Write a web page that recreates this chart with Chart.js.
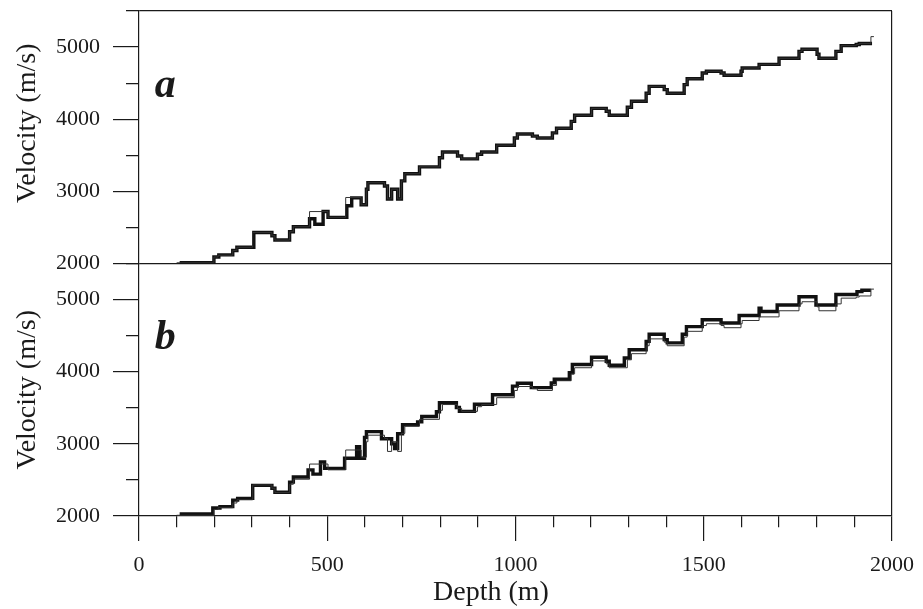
<!DOCTYPE html>
<html>
<head>
<meta charset="utf-8">
<script src="https://cdn.jsdelivr.net/npm/chart.js@4.4.1/dist/chart.umd.min.js"></script>
<style>
  body { margin: 0; background: #fff; }
  #wrap { width: 923px; height: 609px; }
</style>
</head>
<body>
<div id="wrap"><canvas id="myChart"></canvas></div>
<script>
// Step profiles: depth where each layer starts (m) and its velocity (m/s)
// thin line = true model (same in both panels)
const depthTrue = [100, 199, 210, 249, 260, 302, 353, 361, 400, 410, 453, 502, 549, 590, 604, 608, 652, 660, 671, 687,
  697, 706, 745, 798, 806, 846, 857, 899, 910, 950, 997, 1005, 1045, 1058, 1098, 1109, 1148, 1157, 1202, 1241,
  1249, 1297, 1308, 1347, 1355, 1395, 1403, 1448, 1456, 1496, 1507, 1546, 1554, 1599, 1602, 1647, 1700, 1753, 1761, 1801,
  1806, 1851, 1865, 1905, 1913, 1944, 1952];
const velTrue = [2010, 2090, 2115, 2180, 2225, 2430, 2385, 2325, 2440, 2510, 2720, 2640, 2915, 2815, 3030, 3120, 3075, 2895, 3030, 2895,
  3145, 3245, 3340, 3465, 3545, 3490, 3450, 3515, 3545, 3640, 3740, 3795, 3765, 3740, 3810, 3875, 3970, 4055, 4150, 4110,
  4055, 4165, 4250, 4360, 4455, 4410, 4360, 4480, 4560, 4640, 4665, 4640, 4610, 4665, 4710, 4760, 4845, 4940, 4970, 4900,
  4845, 4940, 5020, 5035, 5050, 5145, 5145];

// thick line, panel a
const depthA = [108, 199, 212, 249, 260, 305, 353, 361, 400, 410, 453, 467, 489, 502, 552, 565, 590, 604, 608, 652,
  660, 671, 687, 697, 706, 745, 798, 806, 846, 857, 899, 910, 950, 997, 1005, 1045, 1058, 1098, 1109, 1148,
  1157, 1202, 1241, 1249, 1297, 1308, 1347, 1355, 1395, 1403, 1448, 1456, 1496, 1507, 1546, 1554, 1599, 1602, 1647, 1700,
  1753, 1761, 1801, 1806, 1851, 1865, 1905, 1913, 1947];
const velA = [2010, 2090, 2120, 2180, 2225, 2430, 2385, 2325, 2440, 2510, 2620, 2545, 2720, 2640, 2800, 2910, 2815, 3030, 3120, 3075,
  2895, 3030, 2895, 3145, 3245, 3340, 3465, 3545, 3490, 3450, 3515, 3545, 3640, 3740, 3795, 3765, 3740, 3810, 3875, 3970,
  4055, 4150, 4110, 4055, 4165, 4250, 4360, 4455, 4410, 4360, 4480, 4560, 4640, 4665, 4640, 4610, 4665, 4710, 4760, 4845,
  4940, 4970, 4900, 4845, 4940, 5020, 5035, 5050, 5050];

// thick line, panel b
const depthB = [108, 196, 215, 249, 262, 302, 353, 361, 400, 410, 449, 462, 482, 493, 546, 578, 586, 599, 604, 644,
  671, 679, 687, 700, 740, 751, 790, 798, 843, 851, 891, 939, 992, 1005, 1042, 1095, 1103, 1143, 1151, 1202,
  1241, 1249, 1289, 1302, 1347, 1355, 1395, 1403, 1443, 1454, 1496, 1546, 1594, 1647, 1652, 1695, 1753, 1798, 1851, 1907,
  1920, 1944];
const velB = [2030, 2110, 2130, 2220, 2245, 2425, 2385, 2330, 2470, 2540, 2640, 2580, 2750, 2660, 2800, 2960, 2800, 3090, 3170, 3070,
  3000, 2935, 3140, 3265, 3305, 3380, 3445, 3570, 3505, 3450, 3550, 3680, 3800, 3840, 3780, 3845, 3895, 3985, 4100, 4200,
  4145, 4090, 4190, 4305, 4420, 4520, 4445, 4400, 4520, 4625, 4720, 4675, 4780, 4880, 4835, 4925, 5040, 4925, 5070, 5110,
  5130, 5130];

// axis labels
const depthLabels = [0, 500, 1000, 1500, 2000];
const velLabels = [2000, 3000, 4000, 5000];
const panelTags = ['a', 'b'];

const ink = '#1a1a1a';
const serif = "'Liberation Serif', 'Times New Roman', serif";
Chart.defaults.font.family = serif;
Chart.defaults.color = ink;

const pts = (xs, ys) => xs.map((x, i) => ({x: x, y: ys[i]}));

const thin = (data, axis) => ({data, yAxisID: axis, stepped: true, borderColor: '#333', borderWidth: 1, pointRadius: 0, order: 0});
const thick = (data, axis) => ({data, yAxisID: axis, stepped: true, borderColor: '#111', borderWidth: 3.4, pointRadius: 0, order: 1});

// minor ticks drawn half length via dash pattern
const yAxis = (weight, gridAt, titleText) => ({
  type: 'linear',
  position: 'left',
  stack: 'vel',
  stackWeight: 1,
  weight: weight,
  min: 2000,
  max: 5500,
  afterFit: s => { s.width = 139; s.paddingTop = 0; s.paddingBottom = 0; },
  ticks: {
    stepSize: 500,
    autoSkip: false,
    padding: 13,
    font: {size: 22},
    callback: v => velLabels.includes(v) ? String(v) : ''
  },
  grid: {
    tickLength: 26,
    color: c => c.tick && gridAt.includes(c.tick.value) ? ink : 'rgba(0,0,0,0)',
    lineWidth: 1.2,
    tickColor: ink,
    tickWidth: 1.2,
    tickBorderDash: c => c.tick && c.tick.value % 1000 === 0 ? [] : [0, 13, 13, 100]
  },
  border: {display: true, color: ink, width: 1.2},
  title: {display: true, text: titleText, font: {size: 28}, padding: {top: 11, bottom: 0}}
});

// "a" / "b" panel letters placed with the scales
const panelLetters = {
  id: 'panelLetters',
  afterDatasetsDraw(chart) {
    const ctx = chart.ctx;
    ctx.save();
    ctx.font = "italic bold 42px " + serif;
    ctx.fillStyle = ink;
    ctx.textBaseline = 'alphabetic';
    ['yA', 'yB'].forEach((id, i) => {
      const x = chart.scales.x.getPixelForValue(42);
      const y = chart.scales[id].getPixelForValue(4310);
      ctx.fillText(panelTags[i], x, y);
    });
    ctx.restore();
  }
};

const ctx = document.getElementById('myChart').getContext('2d');
const chart = new Chart(ctx, {
  type: 'line',
  data: {
    datasets: [
      thin(pts(depthTrue, velTrue), 'yA'),
      thick(pts(depthA, velA), 'yA'),
      thin(pts(depthTrue, velTrue), 'yB'),
      thick(pts(depthB, velB), 'yB')
    ]
  },
  options: {
    responsive: true,
    maintainAspectRatio: false,
    animation: false,
    layout: {padding: {top: 11, right: 31, left: 0, bottom: 0}},
    plugins: {legend: {display: false}, tooltip: {enabled: false}},
    scales: {
      x: {
        type: 'linear',
        min: 0,
        max: 2000,
        afterFit: s => { s.height = 93; s.paddingLeft = 0; s.paddingRight = 0; },
        ticks: {
          stepSize: 100,
          autoSkip: false,
          maxRotation: 0,
          padding: 11,
          font: {size: 22},
          callback: v => depthLabels.includes(v) ? String(v) : ''
        },
        grid: {
          tickLength: 25,
          color: c => c.tick && c.tick.value === 2000 ? ink : 'rgba(0,0,0,0)',
          lineWidth: 1.2,
          tickColor: ink,
          tickWidth: 1.2,
          tickBorderDash: c => c.tick && c.tick.value % 500 === 0 ? [] : [11, 100]
        },
        border: {display: true, color: ink, width: 1.2},
        // trailing spaces shift the centred title a little left, as in the original
        title: {display: true, text: 'Depth (m)' + '\u00a0'.repeat(7), font: {size: 28}, padding: {top: 0, bottom: 0}}
      },
      yA: yAxis(2, [2000, 5500], '\u00a0'.repeat(4) + 'Velocity (m/s)'),
      yB: yAxis(1, [], 'Velocity (m/s)')
    }
  },
  plugins: [panelLetters]
});
</script>
</body>
</html>
